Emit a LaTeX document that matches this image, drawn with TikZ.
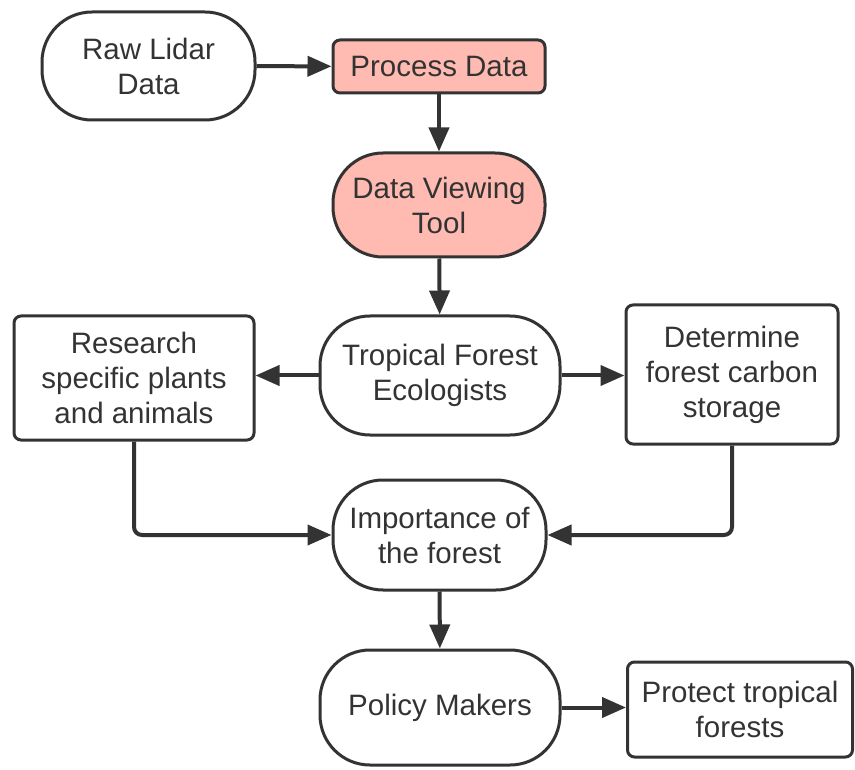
\documentclass[tikz,border=0pt]{standalone}
\usepackage{fontspec}
\setmainfont{Liberation Sans}
\usetikzlibrary{arrows.meta}
\definecolor{ink}{HTML}{333333}
\definecolor{salmon}{HTML}{FFBBB1}
\def\lbl{\fontsize{29.5}{35}\selectfont}
\tikzset{
  box/.style={draw=ink, text=ink, line width=3pt, align=center, inner sep=0pt, font=\lbl},
  term/.style={box, rounded corners=50pt},
  proc/.style={box, rounded corners=7pt},
  flow/.style={draw=ink, line width=4pt, -{Triangle[length=24pt,width=20pt]}},
}

\begin{document}
\begin{tikzpicture}[x=1pt,y=-1pt]
  \useasboundingbox (0,0) rectangle (855,770);
  % top chain
  \node[term, minimum width=213pt, minimum height=108pt] (raw) at (148.5,66) {Raw Lidar\\Data};
  \node[proc, fill=salmon, minimum width=212pt, minimum height=53pt] (process) at (439,66.5) {Process Data};
  \node[term, fill=salmon, minimum width=212pt, minimum height=104pt] (viewer) at (439,205) {Data Viewing\\Tool};
  % middle row
  \node[term, minimum width=240pt, minimum height=119pt] (ecol) at (440,375.5) {Tropical Forest\\Ecologists};
  \node[proc, minimum width=240pt, minimum height=124pt] (research) at (134,378) {Research\\specific plants\\and animals};
  \node[proc, minimum width=212pt, minimum height=139pt] (carbon) at (732,374.5) {Determine\\forest carbon\\storage};
  % bottom
  \node[term, minimum width=213pt, minimum height=110pt] (importance) at (439.5,535) {Importance of\\the forest};
  \node[term, minimum width=240pt, minimum height=115pt] (policy) at (440,707.5) {Policy Makers};
  \node[proc, minimum width=225pt, minimum height=95pt] (protect) at (740,709.5) {Protect tropical\\forests};

  \draw[flow] (raw) -- (process);
  \draw[flow] (process) -- (viewer);
  \draw[flow] (viewer) -- (ecol);
  \draw[flow] (ecol.west) -- (ecol.west -| research.east);
  \draw[flow] (ecol.east) -- (ecol.east -| carbon.west);
  \draw[flow, rounded corners=8pt] (research.south) |- (importance.west);
  \draw[flow, rounded corners=8pt] (carbon.south) |- (importance.east);
  \draw[flow] (importance) -- (policy);
  \draw[flow] (policy.east) -- (policy.east -| protect.west);
\end{tikzpicture}
\end{document}
